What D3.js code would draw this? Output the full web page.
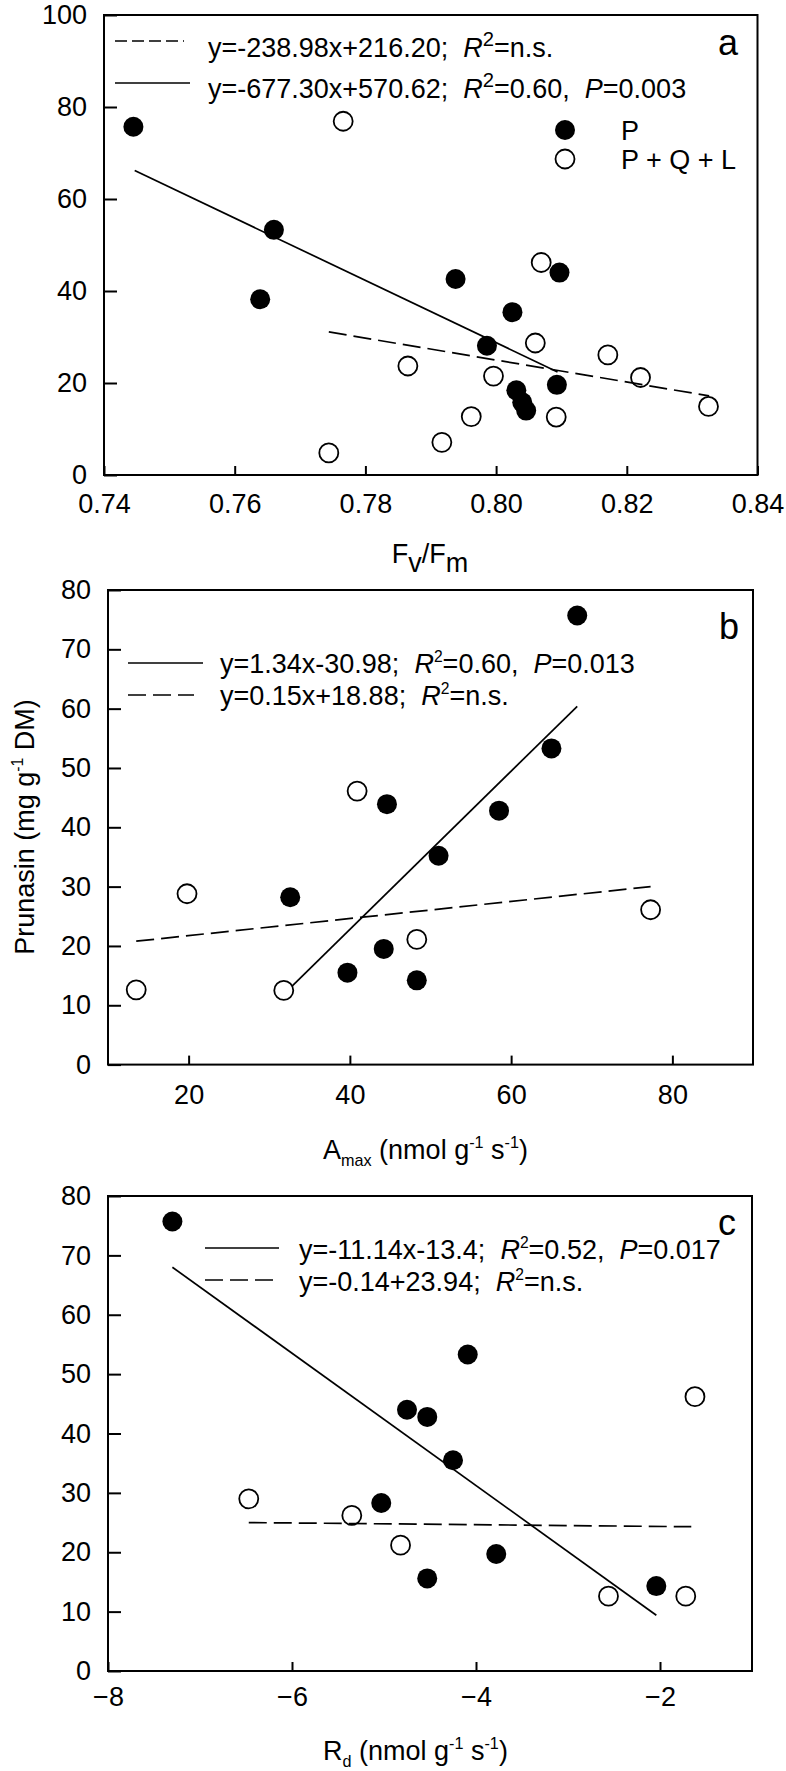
<!DOCTYPE html>
<html><head><meta charset="utf-8">
<script src="https://cdn.jsdelivr.net/npm/d3@7"></script>
<style>
body{margin:0;background:#fff}
svg{display:block}
text{font-family:"Liberation Sans",Arial,Helvetica,sans-serif;fill:#000}
</style>
</head><body>
<svg id="chart" width="786" height="1771"></svg>
<script>
// ---------- DATA ----------
// Panel a: Fv/Fm vs Prunasin
const aFilledX = [0.7445, 0.7660, 0.7639, 0.7938, 0.8097, 0.8025, 0.7986, 0.8093, 0.8031, 0.8040, 0.8046];
const aFilledY = [75.7, 53.3, 38.2, 42.6, 44.0, 35.4, 28.1, 19.6, 18.4, 15.8, 14.0];
const aOpenX = [0.7766, 0.8069, 0.8060, 0.8171, 0.7865, 0.7996, 0.8221, 0.8325, 0.7962, 0.8092, 0.7917, 0.7744];
const aOpenY = [76.9, 46.2, 28.7, 26.1, 23.7, 21.5, 21.2, 14.9, 12.7, 12.6, 7.1, 4.8];
const aSolidX = [0.7447, 0.8094], aSolidY = [66.2, 22.4];
const aDashX = [0.7744, 0.8326], aDashY = [31.1, 17.2];
const aXTicks = [0.74, 0.76, 0.78, 0.80, 0.82, 0.84];
const aYTicks = [0, 20, 40, 60, 80, 100];

// Panel b: Amax vs Prunasin
const bFilledX = [68.2, 65.0, 58.5, 44.6, 51.0, 32.6, 44.2, 39.7, 48.3];
const bFilledY = [75.7, 53.3, 42.8, 43.9, 35.2, 28.2, 19.5, 15.5, 14.2];
const bOpenX = [40.9, 19.8, 77.3, 48.3, 13.5, 31.8];
const bOpenY = [46.1, 28.8, 26.1, 21.1, 12.6, 12.5];
const bSolidX = [32.8, 68.2], bSolidY = [13.2, 60.4];
const bDashX = [13.5, 77.3], bDashY = [20.8, 30.0];
const bXTicks = [20, 40, 60, 80];
const bYTicks = [0, 10, 20, 30, 40, 50, 60, 70, 80];

// Panel c: Rd vs Prunasin
const cFilledX = [-7.30, -4.09, -4.75, -4.53, -4.25, -5.03, -3.78, -4.53, -2.04];
const cFilledY = [75.7, 53.3, 44.0, 42.8, 35.5, 28.3, 19.7, 15.6, 14.3];
const cOpenX = [-1.62, -6.47, -5.35, -4.82, -2.56, -1.72];
const cOpenY = [46.2, 29.0, 26.2, 21.2, 12.6, 12.6];
const cSolidX = [-7.30, -2.04], cSolidY = [68.0, 9.4];
const cDashX = [-6.47, -1.66], cDashY = [25.0, 24.3];
const cXTicks = [-8, -6, -4, -2];
const cYTicks = [0, 10, 20, 30, 40, 50, 60, 70, 80];

// ---------- DRAW ----------
const svg = d3.select("#chart");
const FS = 27;
const DATA_DASH = "18,7";

function rich(sel, parts) {
  let off = 0;
  parts.forEach(p => {
    const ts = sel.append("tspan").text(p.t);
    let target = 0;
    if (p.sup) target = -(p.shift || 10);
    if (p.sub) target = (p.shift || 8);
    if (target !== off) { ts.attr("dy", target - off); off = target; }
    if (p.scale) ts.attr("font-size", FS * p.scale);
    if (p.it) ts.attr("font-style", "italic");
  });
  return sel;
}

function panel(o) {
  const x = d3.scaleLinear().domain(o.xDomain).range([o.left, o.right]);
  const y = d3.scaleLinear().domain(o.yDomain).range([o.bottom, o.top]);
  const g = svg.append("g");

  const ax = g.append("g").attr("transform", `translate(0,${o.bottom})`)
    .call(d3.axisBottom(x).tickValues(o.xTicks).tickFormat(o.xFmt || d3.format("d"))
      .tickSizeInner(-9).tickSizeOuter(0).tickPadding(o.xPad));
  const ay = g.append("g").attr("transform", `translate(${o.left},0)`)
    .call(d3.axisLeft(y).tickValues(o.yTicks).tickFormat(d3.format("d"))
      .tickSizeInner(-13).tickSizeOuter(0).tickPadding(17));
  [ax, ay].forEach(a => {
    a.attr("font-size", FS).attr("font-family", null);
    a.select(".domain").remove();
    a.selectAll(".tick line").attr("stroke", "#000").attr("stroke-width", 2);
    a.selectAll(".tick text").attr("fill", "#000");
  });

  g.append("rect").attr("x", o.left).attr("y", o.top)
    .attr("width", o.right - o.left).attr("height", o.bottom - o.top)
    .attr("fill", "none").attr("stroke", "#000").attr("stroke-width", 2);

  const line = d3.line().x(d => x(d[0])).y(d => y(d[1]));

  g.selectAll(".op").data(d3.zip(o.openX, o.openY)).join("circle")
    .attr("cx", d => x(d[0])).attr("cy", d => y(d[1])).attr("r", 9.5)
    .attr("fill", "#fff").attr("stroke", "#000").attr("stroke-width", 1.8);
  g.selectAll(".fp").data(d3.zip(o.filledX, o.filledY)).join("circle")
    .attr("cx", d => x(d[0])).attr("cy", d => y(d[1])).attr("r", 10)
    .attr("fill", "#000");

  g.append("path").attr("d", line(d3.zip(o.solidX, o.solidY)))
    .attr("fill", "none").attr("stroke", "#000").attr("stroke-width", 1.7);
  g.append("path").attr("d", line(d3.zip(o.dashX, o.dashY)))
    .attr("fill", "none").attr("stroke", "#000").attr("stroke-width", 1.7)
    .attr("stroke-dasharray", DATA_DASH);

  o.legend.forEach(l => {
    g.append("line").attr("x1", l.x1).attr("x2", l.x2).attr("y1", l.y).attr("y2", l.y)
      .attr("stroke", "#000").attr("stroke-width", 1.7)
      .attr("stroke-dasharray", l.dash ? l.dash : null);
    const t = g.append("text").attr("x", l.tx).attr("y", l.ty)
      .attr("font-size", FS).attr("xml:space", "preserve").style("white-space", "pre");
    rich(t, l.parts);
  });

  g.append("text").attr("x", o.letter.x).attr("y", o.letter.y)
    .attr("text-anchor", "middle").attr("font-size", 36).text(o.letter.t);
  return g;
}

const R2big = [{t: "R", it: true}, {t: "2", sup: true, scale: 0.75, shift: 11}];
const R2sm = [{t: "R", it: true}, {t: "2", sup: true, scale: 0.58, shift: 11}];

const gA = panel({
  xDomain: [0.74, 0.84], yDomain: [0, 100],
  left: 104, right: 757.5, top: 15, bottom: 475,
  xTicks: aXTicks, yTicks: aYTicks, xFmt: d3.format(".2f"), xPad: 19,
  filledX: aFilledX, filledY: aFilledY, openX: aOpenX, openY: aOpenY,
  solidX: aSolidX, solidY: aSolidY, dashX: aDashX, dashY: aDashY,
  legend: [
    {dash: "12,5", x1: 115, x2: 184, y: 41, tx: 208, ty: 57,
     parts: [{t: "y=-238.98x+216.20;  "}, ...R2big, {t: "=n.s."}]},
    {dash: null, x1: 115, x2: 190, y: 83, tx: 208, ty: 98,
     parts: [{t: "y=-677.30x+570.62;  "}, ...R2big, {t: "=0.60,  "}, {t: "P", it: true}, {t: "=0.003"}]}
  ],
  letter: {t: "a", x: 728, y: 55}
});
gA.append("circle").attr("cx", 565).attr("cy", 130).attr("r", 10).attr("fill", "#000");
gA.append("circle").attr("cx", 565).attr("cy", 159).attr("r", 9.5).attr("fill", "#fff")
  .attr("stroke", "#000").attr("stroke-width", 1.8);
gA.append("text").attr("x", 621).attr("y", 140).attr("font-size", FS).text("P");
gA.append("text").attr("x", 621).attr("y", 169).attr("font-size", FS).text("P + Q + L");
rich(svg.append("text").attr("x", 430).attr("y", 563).attr("text-anchor", "middle").attr("font-size", FS),
  [{t: "F"}, {t: "v", sub: true, shift: 9}, {t: "/F"}, {t: "m", sub: true, shift: 9}]);

panel({
  xDomain: [10, 90], yDomain: [0, 80],
  left: 108, right: 753, top: 590, bottom: 1064.6,
  xTicks: bXTicks, yTicks: bYTicks, xPad: 20,
  filledX: bFilledX, filledY: bFilledY, openX: bOpenX, openY: bOpenY,
  solidX: bSolidX, solidY: bSolidY, dashX: bDashX, dashY: bDashY,
  legend: [
    {dash: null, x1: 128, x2: 203, y: 663, tx: 220, ty: 673,
     parts: [{t: "y=1.34x-30.98;  "}, ...R2sm, {t: "=0.60,  "}, {t: "P", it: true}, {t: "=0.013"}]},
    {dash: "18,7", x1: 128, x2: 194, y: 695, tx: 220, ty: 705,
     parts: [{t: "y=0.15x+18.88;  "}, ...R2sm, {t: "=n.s."}]}
  ],
  letter: {t: "b", x: 729, y: 639}
});
rich(svg.append("text").attr("transform", "translate(34,827) rotate(-90)")
  .attr("text-anchor", "middle").attr("font-size", FS),
  [{t: "Prunasin (mg g"}, {t: "-1", sup: true, scale: 0.58, shift: 11}, {t: " DM)"}]);
rich(svg.append("text").attr("x", 323).attr("y", 1159).attr("font-size", FS),
  [{t: "A"}, {t: "max", sub: true, scale: 0.6, shift: 7}, {t: " (nmol g"},
   {t: "-1", sup: true, scale: 0.6, shift: 11}, {t: " s"}, {t: "-1", sup: true, scale: 0.6, shift: 11}, {t: ")"}]);

panel({
  xDomain: [-8, -1], yDomain: [0, 80],
  left: 108, right: 752, top: 1196, bottom: 1671,
  xTicks: cXTicks, yTicks: cYTicks, xPad: 16,
  filledX: cFilledX, filledY: cFilledY, openX: cOpenX, openY: cOpenY,
  solidX: cSolidX, solidY: cSolidY, dashX: cDashX, dashY: cDashY,
  legend: [
    {dash: null, x1: 205, x2: 279, y: 1248, tx: 299, ty: 1259,
     parts: [{t: "y=-11.14x-13.4;  "}, ...R2sm, {t: "=0.52,  "}, {t: "P", it: true}, {t: "=0.017"}]},
    {dash: "18,7", x1: 205, x2: 273, y: 1280, tx: 299, ty: 1291,
     parts: [{t: "y=-0.14+23.94;  "}, ...R2sm, {t: "=n.s."}]}
  ],
  letter: {t: "c", x: 727, y: 1235}
});
rich(svg.append("text").attr("x", 323).attr("y", 1760).attr("font-size", FS),
  [{t: "R"}, {t: "d", sub: true, scale: 0.6, shift: 7}, {t: " (nmol g"},
   {t: "-1", sup: true, scale: 0.6, shift: 11}, {t: " s"}, {t: "-1", sup: true, scale: 0.6, shift: 11}, {t: ")"}]);
</script>
</body></html>
